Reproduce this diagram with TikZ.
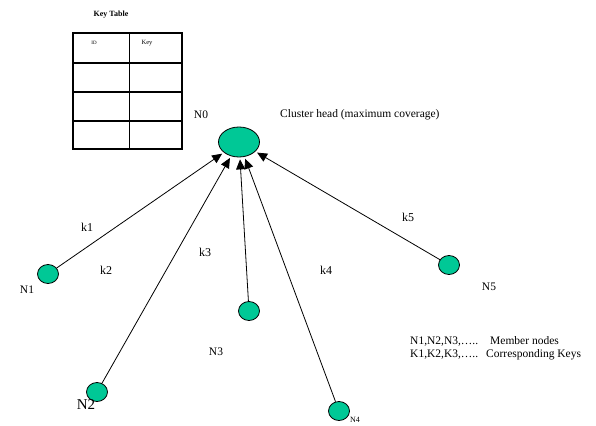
\documentclass[tikz,border=0pt]{standalone}
\usepackage{fontspec}
\setmainfont{Liberation Serif}
\usetikzlibrary{positioning,arrows.meta,shapes.geometric}
\definecolor{nodegreen}{RGB}{0,200,150}

\begin{document}
\begin{tikzpicture}[
  x=1pt, y=-1pt,
  >={Triangle[length=10pt,width=9pt]},
  every node/.style={font=\fontsize{11.5}{12}\selectfont, inner sep=1pt},
  member/.style={draw, line width=0.8pt, fill=nodegreen, ellipse, minimum width=21pt, minimum height=19pt, inner sep=0pt},
  head/.style={draw, line width=0.8pt, fill=nodegreen, ellipse, minimum width=41pt, minimum height=30pt, inner sep=0pt},
  keylabel/.style={font=\fontsize{12}{13}\selectfont},
  link/.style={->, line width=0.8pt, shorten >=2pt}
]
\useasboundingbox (0,0) rectangle (596,425);

% key table
\node (ktitle) at (111,15) {\fontsize{8}{9}\selectfont\bfseries Key Table};
\draw[line width=1.2pt] (73,33) rectangle (182,149);
\draw[line width=1pt] (129,33) -- (129,149);
\draw[line width=1.6pt] (73,63) -- (182,63);
\draw[line width=1.6pt] (73,92) -- (182,92);
\draw[line width=1.6pt] (73,121) -- (182,121);
\draw[line width=1.6pt] (73,149) -- (182,149);
\node (idcol) at (94,43) {\fontsize{5}{6}\selectfont ID};
\node (keycol) at (147,43) {\fontsize{6.5}{7}\selectfont Key};

% cluster head
\node[head] (n0) at (239,142) {};
\node (n0lbl) at (201,115) {N0};
\node[anchor=west] (chlbl) at (279,115) {Cluster head (maximum coverage)};

% member nodes
\node[member] (n1) at (48,274) {};
\node[member] (n2) at (97,392) {};
\node[member] (n3) at (249,311) {};
\node[member] (n4) at (339,411) {};
\node[member] (n5) at (449,265) {};

\node (n1lbl) at (27,290) {N1};
\node (n2lbl) at (86,405) {\fontsize{15}{16}\selectfont N2};
\node (n3lbl) at (216,352) {N3};
\node (n4lbl) at (355,420) {\fontsize{8}{9}\selectfont N4};
\node (n5lbl) at (489,287) {N5};

% keys
\node[keylabel] (k1) at (87,227) {k1};
\node[keylabel] (k2) at (106,270) {k2};
\node[keylabel] (k3) at (205,252) {k3};
\node[keylabel] (k4) at (326,270) {k4};
\node[keylabel] (k5) at (408,217) {k5};

% links to the cluster head
\draw[link] (n1) -- (n0);
\draw[link] (n2) -- (n0);
\draw[link] (n3) -- (n0);
\draw[link] (n4) -- (n0);
\draw[link] (n5) -- (n0);

% legend
\node[anchor=west] (leg1) at (409,341) {\makebox[80pt][l]{N1,N2,N3,…..}Member nodes};
\node[anchor=west] (leg2) at (409,355) {\makebox[76pt][l]{K1,K2,K3,…..}Corresponding Keys};
\end{tikzpicture}
\end{document}
